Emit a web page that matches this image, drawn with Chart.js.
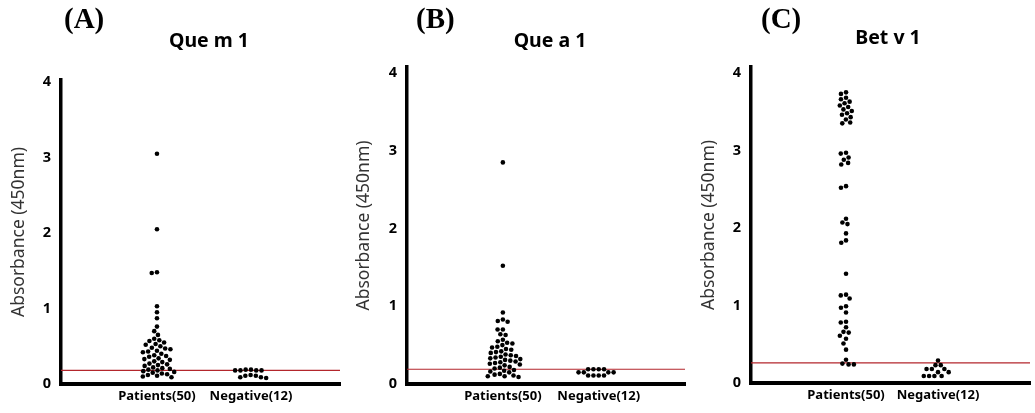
<!DOCTYPE html>
<html><head><meta charset="utf-8">
<script src="https://cdn.jsdelivr.net/npm/chart.js@4/dist/chart.umd.min.js"></script>
<style>
html,body{margin:0;padding:0;background:#fff;}
#wrap{position:relative;width:1035px;height:413px;overflow:hidden;}
.panel{position:absolute;top:0;width:345px;height:413px;}
.panel canvas{position:absolute;left:0;top:0;}
.tag{position:absolute;font:bold 29px "Liberation Serif","Times New Roman",serif;line-height:28px;top:4px;color:#000;white-space:nowrap;}
.ttl{position:absolute;font:bold 19.5px "Noto Sans",sans-serif;line-height:18px;transform:translateX(-50%);white-space:nowrap;color:#000;}
</style></head>
<body>
<div id="wrap">
  <div class="panel" style="left:0px"><canvas id="c0" width="345" height="413"></canvas><div class="tag" id="t0" style="left:64px"></div><div class="ttl" id="h0" style="left:209px;top:31px"></div></div>
  <div class="panel" style="left:345px"><canvas id="c1" width="345" height="413"></canvas><div class="tag" id="t1" style="left:71px"></div><div class="ttl" id="h1" style="left:205px;top:31px"></div></div>
  <div class="panel" style="left:690px"><canvas id="c2" width="345" height="413"></canvas><div class="tag" id="t2" style="left:71px"></div><div class="ttl" id="h2" style="left:198px;top:28px"></div></div>
</div>
<script>
// ---------- DATA ----------
const categories = ["Patients(50)", "Negative(12)"];
const yTicks = [0, 1, 2, 3, 4];
const panelTags = ["(A)", "(B)", "(C)"];
const allergens = ["Que m 1", "Que a 1", "Bet v 1"];
const yAxisTitle = "Absorbance (450nm)";
const cutoffs = [0.18, 0.19, 0.26];

const queM1Patients = [3.05, 2.05, 1.48, 1.47, 1.03, 0.95, 0.87, 0.76, 0.70, 0.65,
  0.60, 0.58, 0.57, 0.55, 0.53, 0.52, 0.50, 0.48, 0.47, 0.46,
  0.44, 0.43, 0.42, 0.40, 0.38, 0.37, 0.36, 0.34, 0.33, 0.32,
  0.30, 0.29, 0.27, 0.26, 0.25, 0.24, 0.22, 0.21, 0.20, 0.19,
  0.18, 0.17, 0.16, 0.15, 0.14, 0.13, 0.12, 0.11, 0.10, 0.09];
const queM1Negative = [0.19, 0.19, 0.18, 0.18, 0.18, 0.18, 0.12, 0.11, 0.11, 0.09, 0.09, 0.08];

const queA1Patients = [2.85, 1.52, 0.92, 0.83, 0.81, 0.80, 0.70, 0.70, 0.64, 0.63,
  0.57, 0.55, 0.53, 0.52, 0.50, 0.48, 0.47, 0.45, 0.44, 0.42,
  0.41, 0.40, 0.38, 0.37, 0.36, 0.35, 0.34, 0.33, 0.32, 0.31,
  0.30, 0.29, 0.28, 0.27, 0.26, 0.25, 0.24, 0.22, 0.21, 0.20,
  0.18, 0.17, 0.16, 0.15, 0.13, 0.12, 0.11, 0.10, 0.10, 0.09];
const queA1Negative = [0.19, 0.19, 0.19, 0.19, 0.15, 0.15, 0.15, 0.15, 0.11, 0.11, 0.11, 0.11];

const betV1Patients = [3.75, 3.73, 3.68, 3.66, 3.63, 3.61, 3.58, 3.56, 3.53, 3.51,
  3.48, 3.46, 3.43, 3.40, 3.36, 3.35,
  2.97, 2.96, 2.91, 2.88, 2.84, 2.82,
  2.54, 2.52,
  2.12, 2.07, 2.05, 1.93, 1.84, 1.81,
  1.41,
  1.14, 1.13, 1.09, 0.99, 0.97, 0.91, 0.79, 0.78, 0.72, 0.66,
  0.65, 0.61, 0.57, 0.51, 0.43, 0.30, 0.25, 0.24, 0.24];
const betV1Negative = [0.29, 0.23, 0.23, 0.18, 0.18, 0.18, 0.14, 0.14, 0.09, 0.09, 0.09, 0.09];

const patientsSets = [queM1Patients, queA1Patients, betV1Patients];
const negativeSets = [queM1Negative, queA1Negative, betV1Negative];

// ---------- LAYOUT (styling only) ----------
const layouts = [
  {axisW: 61, padTop: 80, padRight: 5, xH: 29, yMax: 4.026, xMin: -0.021, xMax: 2.947},
  {axisW: 62, padTop: 67, padRight: 5, xH: 29, yMax: 4.077, xMin: 0.0, xMax: 2.9},
  {axisW: 61, padTop: 67, padRight: 5, xH: 30, yMax: 4.077, xMin: -0.033, xMax: 3.0}
];
const DOT_R = 2.3;
const SWARM_D = 5.3;
const CUTOFF_COLOR = '#b3262c';

function swarmOffsets(values, yScale, D) {
  const pts = values.map((v, i) => ({i, y: yScale.getPixelForValue(v)}));
  pts.sort((a, b) => a.y - b.y);
  const placed = [];
  const offs = new Array(values.length).fill(0);
  for (const p of pts) {
    const near = placed.filter(q => Math.abs(q.y - p.y) < D);
    const cands = [0];
    for (const q of near) {
      const dx = Math.sqrt(D * D - (q.y - p.y) ** 2);
      cands.push(q.x - dx, q.x + dx);
    }
    cands.sort((a, b) => Math.abs(a) - Math.abs(b));
    let x = 0;
    for (const c of cands) {
      if (near.every(q => (q.x - c) ** 2 + (q.y - p.y) ** 2 >= D * D - 1e-6)) { x = c; break; }
    }
    placed.push({x, y: p.y});
    offs[p.i] = x;
  }
  return offs;
}

function makePanel(k) {
  const L = layouts[k];
  document.getElementById('t' + k).textContent = panelTags[k];
  document.getElementById('h' + k).textContent = allergens[k];
  const groups = [patientsSets[k], negativeSets[k]];
  const datasets = [{
    type: 'line', label: 'cutoff',
    data: [{x: L.xMin, y: cutoffs[k]}, {x: L.xMax, y: cutoffs[k]}],
    borderColor: CUTOFF_COLOR, borderWidth: 1.2, pointRadius: 0, fill: false, order: 5
  }].concat(groups.map((vals, g) => ({
    type: 'scatter', label: categories[g],
    data: vals.map(v => ({x: g + 1, y: v})),
    pointRadius: DOT_R, pointHoverRadius: DOT_R,
    backgroundColor: '#000', borderWidth: 0, clip: false, order: 1
  })));
  const chart = new Chart(document.getElementById('c' + k), {
    type: 'scatter',
    data: {datasets},
    options: {
      responsive: false, animation: false, events: [],
      layout: {padding: {top: L.padTop, right: L.padRight, left: 0, bottom: 0}},
      plugins: {legend: {display: false}, tooltip: {enabled: false}},
      scales: {
        x: {
          type: 'linear', min: L.xMin, max: L.xMax,
          afterFit: s => { s.height = L.xH; },
          afterBuildTicks: s => { s.ticks = categories.map((c, i) => ({value: i + 1})); },
          ticks: {
            callback: v => categories[Math.round(v) - 1] || '',
            font: {family: 'Noto Sans', weight: 'bold', size: 13},
            color: '#000', padding: 4, maxRotation: 0, autoSkip: false
          },
          grid: {display: false, drawTicks: false},
          border: {display: true, width: 4, color: '#000'}
        },
        y: {
          min: 0, max: L.yMax,
          afterFit: s => { s.width = L.axisW; },
          afterBuildTicks: s => { s.ticks = yTicks.map(v => ({value: v})); },
          ticks: {font: {family: 'Noto Sans', weight: 'bold', size: 14.5}, color: '#000', padding: 10},
          grid: {display: false, drawTicks: false},
          border: {display: true, width: 3.5, color: '#000'},
          title: {display: true, text: yAxisTitle, font: {family: 'Noto Sans', size: 17.5, lineHeight: 1.2}, color: '#333', padding: {top: 9, bottom: 0}}
        }
      }
    }
  });
  const xs = chart.scales.x, ys = chart.scales.y;
  const ppu = xs.getPixelForValue(2) - xs.getPixelForValue(1);
  groups.forEach((vals, g) => {
    const offs = swarmOffsets(vals, ys, SWARM_D);
    chart.data.datasets[g + 1].data = vals.map((v, i) => ({x: g + 1 + offs[i] / ppu, y: v}));
  });
  chart.update();
}
[0, 1, 2].forEach(makePanel);
</script>
</body></html>
